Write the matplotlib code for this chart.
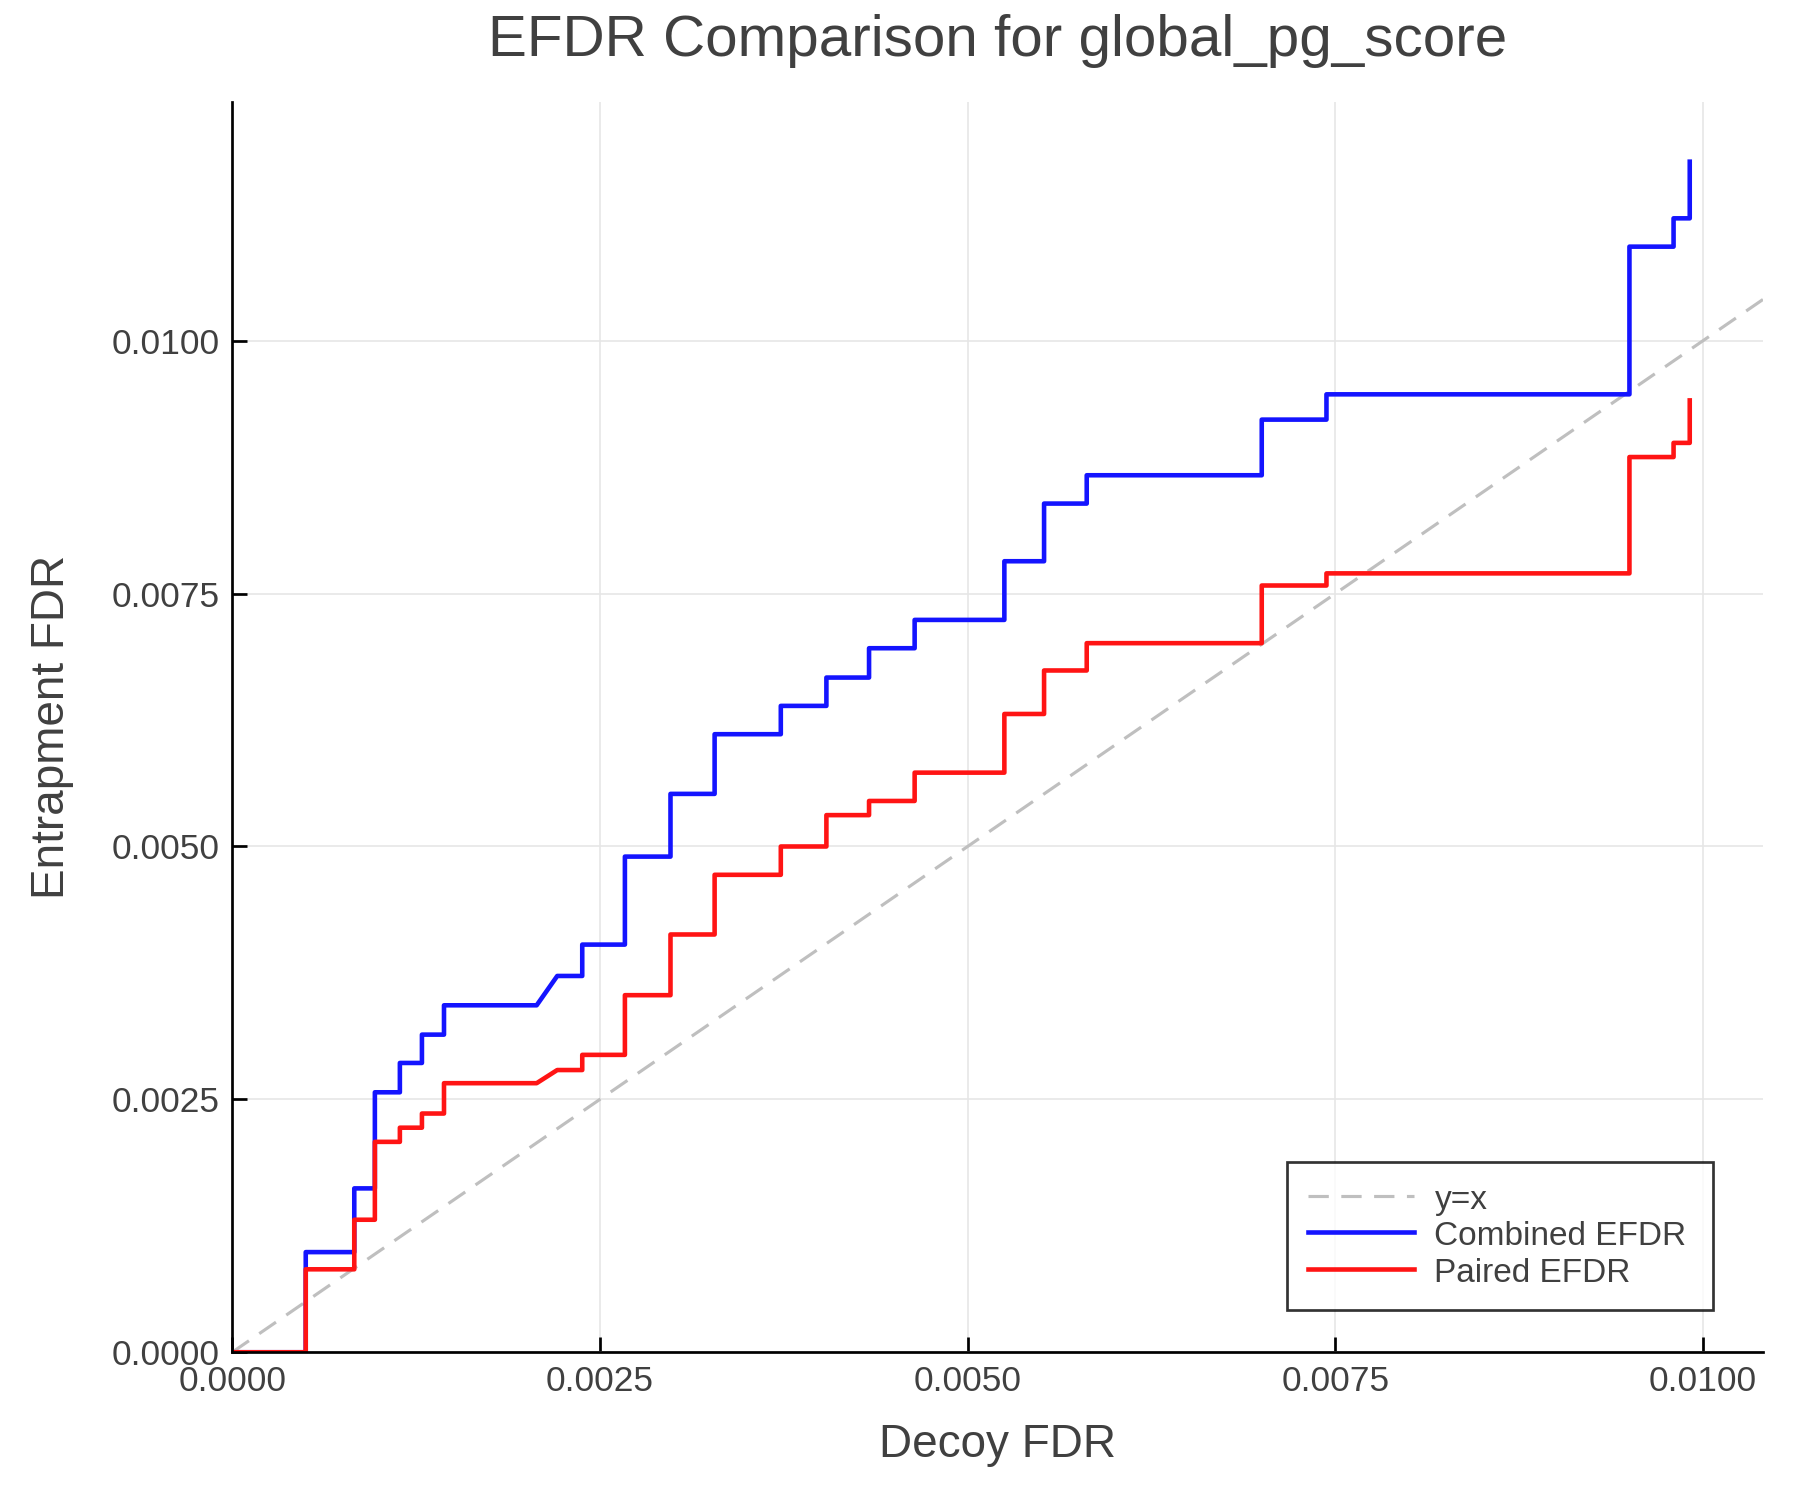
import matplotlib
matplotlib.use("Agg")
import matplotlib.pyplot as plt
import numpy as np

plt.rcParams['font.family'] = ['Liberation Sans', 'DejaVu Sans']

title = "EFDR Comparison for global_pg_score"
xlabel = "Decoy FDR"
ylabel = "Entrapment FDR"

decoy_fdr = [0.0, 0.00050, 0.00050, 0.00083, 0.00083, 0.00097, 0.00097, 0.00114, 0.00114,
             0.00129, 0.00129, 0.00144, 0.00144, 0.00207, 0.00221, 0.00238, 0.00238,
             0.00267, 0.00267, 0.00298, 0.00298, 0.00328, 0.00328, 0.00373, 0.00373,
             0.00404, 0.00404, 0.00433, 0.00433, 0.00464, 0.00464, 0.00525, 0.00525,
             0.00552, 0.00552, 0.00581, 0.00581, 0.00700, 0.00700, 0.00744, 0.00744,
             0.00950, 0.00950, 0.00980, 0.00980, 0.00991, 0.00991]

combined_efdr = [0.0, 0.0, 0.00099, 0.00099, 0.00162, 0.00162, 0.00257, 0.00257, 0.00286,
                 0.00286, 0.00314, 0.00314, 0.00343, 0.00343, 0.00372, 0.00372, 0.00403,
                 0.00403, 0.00490, 0.00490, 0.00552, 0.00552, 0.00611, 0.00611, 0.00639,
                 0.00639, 0.00667, 0.00667, 0.00696, 0.00696, 0.00724, 0.00724, 0.00782,
                 0.00782, 0.00839, 0.00839, 0.00867, 0.00867, 0.00922, 0.00922, 0.00947,
                 0.00947, 0.01093, 0.01093, 0.01121, 0.01121, 0.01177]

paired_efdr = [0.0, 0.0, 0.00082, 0.00082, 0.00131, 0.00131, 0.00208, 0.00208, 0.00222,
               0.00222, 0.00236, 0.00236, 0.00266, 0.00266, 0.00279, 0.00279, 0.00294,
               0.00294, 0.00353, 0.00353, 0.00413, 0.00413, 0.00472, 0.00472, 0.00500,
               0.00500, 0.00531, 0.00531, 0.00545, 0.00545, 0.00573, 0.00573, 0.00631,
               0.00631, 0.00674, 0.00674, 0.00701, 0.00701, 0.00758, 0.00758, 0.00770,
               0.00770, 0.00885, 0.00885, 0.00899, 0.00899, 0.00941]

diag = [0.0, 0.01042]
tick_vals = [0.0, 0.0025, 0.0050, 0.0075, 0.0100]
tick_labels = ["0.0000", "0.0025", "0.0050", "0.0075", "0.0100"]
series_labels = ["y=x", "Combined EFDR", "Paired EFDR"]

text_color = "#404040"

fig = plt.figure(figsize=(12, 10), dpi=150)
ax = fig.add_axes([0.129, 0.0985, 0.8506, 0.8335])

ax.plot(diag, diag, linestyle=(0, (6.5, 4)), color="#bfbfbf", lw=1.5, label=series_labels[0])
ax.plot(decoy_fdr, combined_efdr, color="#1414ff", lw=2.2, label=series_labels[1])
ax.plot(decoy_fdr, paired_efdr, color="#ff1414", lw=2.2, label=series_labels[2])

ax.set_xlim(0, 0.01041)
ax.set_ylim(0, 0.01236)
ax.set_xticks(tick_vals)
ax.set_xticklabels(tick_labels)
ax.set_yticks(tick_vals)
ax.set_yticklabels(tick_labels)

ax.grid(True, color="#e6e6e6", lw=0.8)
ax.set_axisbelow(True)
for s in ["top", "right"]:
    ax.spines[s].set_visible(False)
for s in ["left", "bottom"]:
    ax.spines[s].set_linewidth(1.3)
    ax.spines[s].set_color("black")
ax.tick_params(direction="in", length=7, width=1.3, colors="black",
               labelcolor=text_color, labelsize=17, pad=6)

ax.set_title(title, fontsize=28, color=text_color, pad=22)
ax.set_xlabel(xlabel, fontsize=22, color=text_color, labelpad=12)
ax.set_ylabel(ylabel, fontsize=22, color=text_color, labelpad=18)

leg = ax.legend(loc="lower left", bbox_to_anchor=(0.689, 0.034, 0.278, 0.12), mode="expand",
                fontsize=16, frameon=True, fancybox=False, edgecolor="black",
                handlelength=3.2, handleheight=1.0, borderpad=0.62, labelspacing=0.1,
                handletextpad=0.6, borderaxespad=0)
leg.get_frame().set_linewidth(1.3)
for t in leg.get_texts():
    t.set_color(text_color)

fig.savefig("out.png", dpi=150)
